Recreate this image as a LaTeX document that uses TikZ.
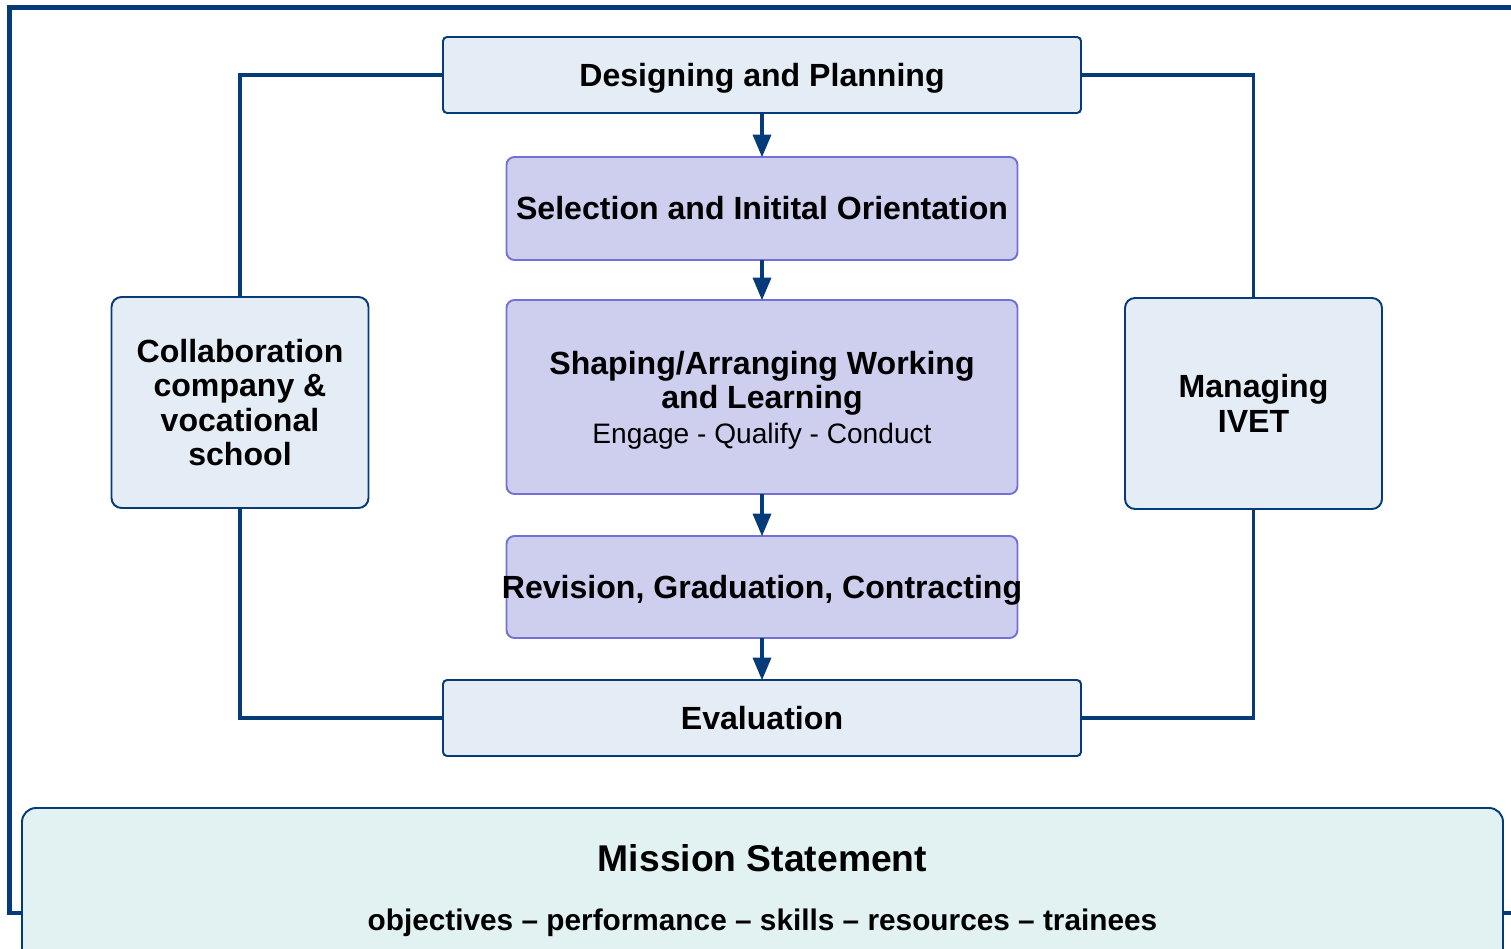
\documentclass[tikz,border=0pt]{standalone}
\usepackage{fontspec}
\setmainfont{Liberation Sans}
\usepackage{tikz}
\usetikzlibrary{arrows,positioning}

\definecolor{navy}{HTML}{063B79}
\definecolor{paleblue}{HTML}{E4ECF5}
\definecolor{lavender}{HTML}{CECEEE}
\definecolor{violetline}{HTML}{7272D6}
\definecolor{paleteal}{HTML}{E2F2F3}

\begin{document}
\begin{tikzpicture}[>=triangle 45,node distance=0.84cm,
			font=\bfseries\fontsize{18.25}{19.6}\selectfont]
			\tikzstyle{phase}=[draw=navy,line width=1.1pt,fill=paleblue,rounded corners=0.08cm,
				minimum width=12.76cm,minimum height=1.52cm,inner sep=0pt,outer sep=0pt,text depth=0pt]
			\tikzstyle{stage}=[draw=violetline,line width=1.1pt,fill=lavender,rounded corners=0.16cm,
				minimum width=10.22cm,inner sep=0pt,outer sep=0pt,align=center]
			\tikzstyle{side}=[draw=navy,line width=1.1pt,fill=paleblue,rounded corners=0.2cm,
				minimum width=5.14cm,minimum height=4.22cm,inner sep=0pt,outer sep=0pt,align=center]
			\tikzstyle{flow}=[->,draw=navy,fill=navy,line width=2pt]
			\tikzstyle{link}=[draw=navy,line width=1.9pt]
			
			\useasboundingbox (0,0) rectangle (30.22,-18.96);
			\clip (0,0) rectangle (30.22,-18.96);
			
			% central column
			\node[phase]    (Des) at (15.24,-1.5)		{Designing and Planning};
			\node[stage, minimum height=2.06cm]    (Sel)[below=0.88cm of Des]		{Selection and Initital Orientation};
			\node[stage, minimum height=3.88cm, text depth=0pt]    (Sha)[below=0.8cm of Sel]		{Shaping/Arranging Working\\and Learning\\
				{\mdseries\fontsize{16}{19.6}\selectfont Engage - Qualify - Conduct}};
			\node[stage, minimum height=2.04cm, text depth=0pt]    (Rev)[below=0.84cm of Sha]		{\makebox[0pt]{Revision, Graduation, Contracting}};
			\node[phase]    (Eva)[below=0.84cm of Rev]		{Evaluation};
			
			% side boxes
			\node[side]    (Col) at (4.8,-8.05)		{Collaboration\\company \&\\vocational\\school};
			\node[side]    (Man) at (25.07,-8.07)		{Managing\\IVET};
			
			% mission box, runs out at the bottom
			\node[draw=navy,line width=1.1pt,fill=paleteal,rounded corners=0.28cm,
				minimum width=29.62cm,minimum height=3.18cm,inner sep=0pt,align=center,text depth=0pt,
				font=\bfseries\fontsize{16.95}{20}\selectfont]    (Mis) at (15.25,-17.75)
				{{\fontsize{21.2}{24}\selectfont Mission Statement}\\[14pt]
				objectives -- performance -- skills -- resources -- trainees};
			
			% outer frame
			\coordinate (TL) at (0.19,-0.15);
			\coordinate (TR) at (30.28,-0.15);
			\draw[navy,line width=2.8pt] ([yshift=-0.51cm]Mis.west) -| (TL) -- (TR) |- ([yshift=-0.51cm]Mis.east);
			
			\path
			(Des.west) edge[link, to path={-| (\tikztotarget)}] (Col.north)
			(Col.south) edge[link, to path={|- (\tikztotarget)}] (Eva.west)
			(Des.east) edge[link, to path={-| (\tikztotarget)}] (Man.north)
			(Man.south) edge[link, to path={|- (\tikztotarget)}] (Eva.east);
			
			\path
			(Des.south) edge[flow] (Sel.north)
			(Sel.south) edge[flow] (Sha.north)
			(Sha.south) edge[flow] (Rev.north)
			(Rev.south) edge[flow] (Eva.north);
			
\end{tikzpicture}
\end{document}
